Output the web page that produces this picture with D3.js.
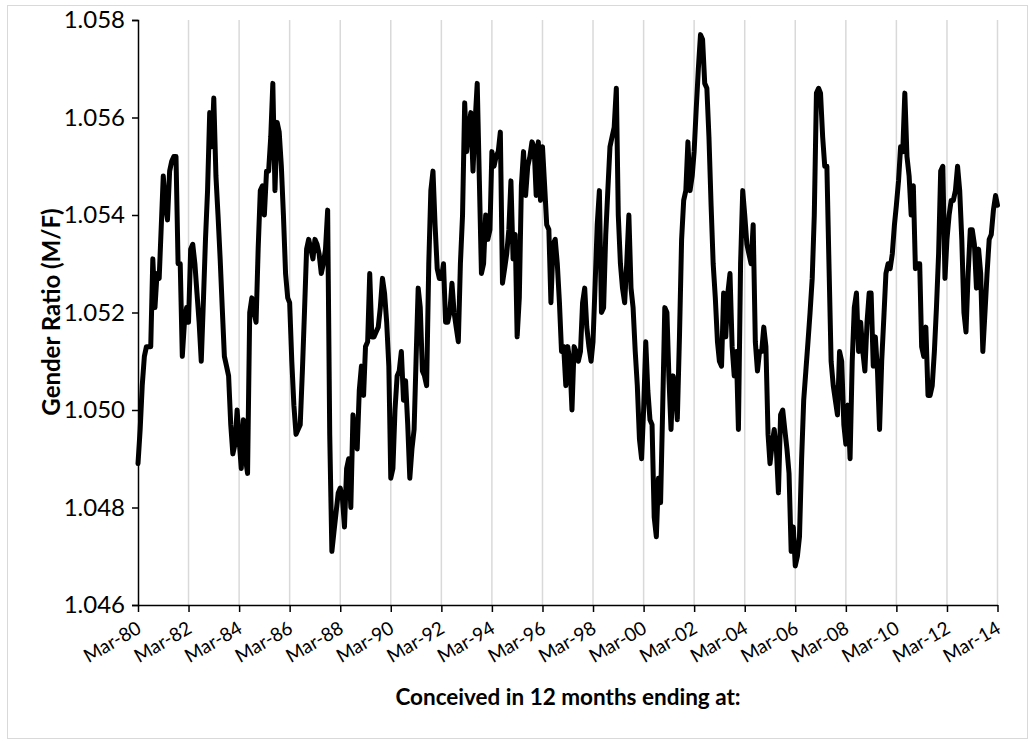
<!DOCTYPE html>
<html>
<head>
<meta charset="utf-8">
<script src="https://cdn.jsdelivr.net/npm/d3@7"></script>
<style>
  html, body { margin: 0; padding: 0; background: #fff; }
  svg { display: block; font-family: Lato, "Open Sans", sans-serif; }
</style>
</head>
<body>
<svg id="chart" width="1029" height="739"></svg>
<script>
// First month of the series and the monthly male/female ratio of births
// conceived in the 12 months ending at each month.
const startMonth = "1980-03";
const ratio = [
  1.0489, 1.0496, 1.0505, 1.0511, 1.0513, 1.0513, 1.0513, 1.0531, 1.0521, 1.0528,
  1.0527, 1.0538, 1.0548, 1.0542, 1.0539, 1.0549, 1.0551, 1.0552, 1.0552, 1.0530,
  1.0530, 1.0511, 1.0518, 1.0521, 1.0518, 1.0533, 1.0534, 1.0530, 1.0524, 1.0518,
  1.0510, 1.0522, 1.0535, 1.0545, 1.0561, 1.0554, 1.0564, 1.0548, 1.0540, 1.0531,
  1.0521, 1.0511, 1.0509, 1.0507, 1.0497, 1.0491, 1.0493, 1.0500, 1.0494, 1.0488,
  1.0498, 1.0490, 1.0487, 1.0520, 1.0523, 1.0520, 1.0518, 1.0533, 1.0545, 1.0546,
  1.0540, 1.0549, 1.0549, 1.0556, 1.0567, 1.0545, 1.0559, 1.0557, 1.0550, 1.0540,
  1.0528, 1.0523, 1.0522, 1.0510, 1.0501, 1.0495, 1.0496, 1.0497, 1.0508, 1.0520,
  1.0533, 1.0535, 1.0533, 1.0531, 1.0535, 1.0534, 1.0532, 1.0528, 1.0530, 1.0533,
  1.0541, 1.0495, 1.0471, 1.0475, 1.0479, 1.0483, 1.0484, 1.0482, 1.0476, 1.0488,
  1.0490, 1.0480, 1.0499, 1.0495, 1.0492, 1.0504, 1.0509, 1.0503, 1.0513, 1.0514,
  1.0528, 1.0515, 1.0515, 1.0516, 1.0517, 1.0521, 1.0527, 1.0524, 1.0518, 1.0509,
  1.0486, 1.0488, 1.0500, 1.0507, 1.0508, 1.0512, 1.0502, 1.0506, 1.0497, 1.0486,
  1.0492, 1.0496, 1.0510, 1.0525, 1.0521, 1.0508, 1.0507, 1.0505, 1.0530, 1.0545,
  1.0549, 1.0538, 1.0529, 1.0527, 1.0527, 1.0530, 1.0518, 1.0518, 1.0520, 1.0526,
  1.0520, 1.0517, 1.0514, 1.0530, 1.0540, 1.0563, 1.0553, 1.0558, 1.0561, 1.0549,
  1.0559, 1.0567, 1.0547, 1.0528, 1.0530, 1.0540, 1.0535, 1.0537, 1.0553, 1.0550,
  1.0552, 1.0553, 1.0557, 1.0526, 1.0529, 1.0532, 1.0537, 1.0547, 1.0531, 1.0536,
  1.0515, 1.0523, 1.0546, 1.0553, 1.0544, 1.0550, 1.0552, 1.0555, 1.0554, 1.0544,
  1.0555, 1.0543, 1.0554, 1.0546, 1.0538, 1.0537, 1.0522, 1.0534, 1.0535, 1.0530,
  1.0522, 1.0512, 1.0513, 1.0505, 1.0513, 1.0510, 1.0500, 1.0513, 1.0512, 1.0510,
  1.0512, 1.0522, 1.0525, 1.0517, 1.0513, 1.0510, 1.0514, 1.0526, 1.0538, 1.0545,
  1.0520, 1.0521, 1.0536, 1.0545, 1.0554, 1.0556, 1.0558, 1.0566, 1.0540, 1.0530,
  1.0525, 1.0522, 1.0530, 1.0540, 1.0525, 1.0521, 1.0512, 1.0505, 1.0494, 1.0490,
  1.0500, 1.0514, 1.0504, 1.0498, 1.0497, 1.0478, 1.0474, 1.0486, 1.0481, 1.0500,
  1.0521, 1.0520, 1.0507, 1.0496, 1.0507, 1.0505, 1.0498, 1.0515, 1.0535, 1.0543,
  1.0545, 1.0555, 1.0545, 1.0548, 1.0553, 1.0562, 1.0570, 1.0577, 1.0576, 1.0567,
  1.0566, 1.0556, 1.0542, 1.0530, 1.0523, 1.0514, 1.0510, 1.0509, 1.0524, 1.0515,
  1.0524, 1.0528, 1.0513, 1.0507, 1.0512, 1.0496, 1.0530, 1.0545, 1.0540, 1.0534,
  1.0532, 1.0530, 1.0538, 1.0514, 1.0508, 1.0512, 1.0512, 1.0517, 1.0513, 1.0495,
  1.0489, 1.0493, 1.0496, 1.0492, 1.0483, 1.0499, 1.0500, 1.0496, 1.0492, 1.0487,
  1.0471, 1.0476, 1.0468, 1.0470, 1.0474, 1.0490, 1.0502, 1.0508, 1.0514, 1.0520,
  1.0527, 1.0540, 1.0565, 1.0566, 1.0565, 1.0556, 1.0550, 1.0550, 1.0530, 1.0510,
  1.0505, 1.0502, 1.0499, 1.0512, 1.0510, 1.0497, 1.0493, 1.0501, 1.0490, 1.0510,
  1.0521, 1.0524, 1.0512, 1.0518, 1.0512, 1.0508, 1.0518, 1.0524, 1.0524, 1.0509,
  1.0515, 1.0508, 1.0496, 1.0510, 1.0519, 1.0528, 1.0530, 1.0529, 1.0532, 1.0538,
  1.0542, 1.0547, 1.0554, 1.0553, 1.0565, 1.0552, 1.0548, 1.0540, 1.0546, 1.0529,
  1.0530, 1.0530, 1.0513, 1.0511, 1.0517, 1.0503, 1.0503, 1.0505, 1.0512, 1.0521,
  1.0532, 1.0549, 1.0550, 1.0527, 1.0535, 1.0540, 1.0543, 1.0543, 1.0545, 1.0550,
  1.0545, 1.0535, 1.0520, 1.0516, 1.0528, 1.0537, 1.0537, 1.0534, 1.0525, 1.0533,
  1.0528, 1.0512, 1.0520, 1.0528, 1.0535, 1.0536, 1.0541, 1.0544, 1.0542
];
const yTicks = [1.046, 1.048, 1.050, 1.052, 1.054, 1.056, 1.058];
const xTickStepMonths = 24;
const yTitle = "Gender Ratio (M/F)";
const xTitle = "Conceived in 12 months ending at:";

const parseMonth = d3.timeParse("%Y-%m");
const start = parseMonth(startMonth);
const series = ratio.map((v, i) => ({ date: d3.timeMonth.offset(start, i), value: v }));
const end = series[series.length - 1].date;

const svg = d3.select("#chart");
const W = 1029, H = 739;
const plot = { left: 138, right: 997.5, top: 20, bottom: 605 };
const font = "Lato, 'Open Sans', sans-serif";

// outer chart frame
svg.append("rect")
  .attr("x", 7.5).attr("y", 5.5)
  .attr("width", W - 9).attr("height", H - 6)
  .attr("fill", "#fff").attr("stroke", "#d9d9d9").attr("stroke-width", 1);

const x = d3.scaleTime().domain([start, end]).range([plot.left, plot.right]);
const y = d3.scaleLinear().domain([1.046, 1.058]).range([plot.bottom, plot.top]);

const monthTicks = d3.range(0, ratio.length, xTickStepMonths).map(i => d3.timeMonth.offset(start, i));

// vertical gridlines every two years
svg.append("g")
  .selectAll("line")
  .data(monthTicks.slice(1))
  .join("line")
  .attr("x1", d => x(d)).attr("x2", d => x(d))
  .attr("y1", plot.top).attr("y2", plot.bottom)
  .attr("stroke", "#d9d9d9").attr("stroke-width", 1.5);

// the series
const line = d3.line().x(d => x(d.date)).y(d => y(d.value)).curve(d3.curveLinear);
svg.append("path")
  .datum(series)
  .attr("d", line)
  .attr("fill", "none")
  .attr("stroke", "#000")
  .attr("stroke-width", 5)
  .attr("stroke-linejoin", "round")
  .attr("stroke-linecap", "round");

// y axis
const yAxis = d3.axisLeft(y).tickValues(yTicks).tickFormat(d3.format(".3f")).tickSize(6).tickPadding(7);
const gy = svg.append("g").attr("transform", `translate(${plot.left},0)`).call(yAxis);
gy.select(".domain").attr("stroke", "#000").attr("stroke-width", 1.5);
gy.selectAll(".tick line").attr("stroke", "#000").attr("stroke-width", 1.5);
gy.selectAll(".tick text")
  .attr("font-family", font)
  .attr("font-size", 24).attr("fill", "#000");

// x axis
const xAxis = d3.axisBottom(x).tickValues(monthTicks).tickFormat(d3.timeFormat("%b-%y")).tickSize(7).tickSizeOuter(0);
const gx = svg.append("g").attr("transform", `translate(0,${plot.bottom})`).call(xAxis);
gx.select(".domain").attr("stroke", "#000").attr("stroke-width", 1.5);
gx.selectAll(".tick line").attr("stroke", "#000").attr("stroke-width", 1.5);
gx.selectAll(".tick text")
  .attr("font-family", font)
  .attr("font-size", 19).attr("fill", "#000")
  .attr("text-anchor", "end")
  .attr("y", 0)
  .attr("dy", null)
  .attr("transform", "translate(4,27) rotate(-30)");

// axis titles
svg.append("text")
  .attr("x", 568).attr("y", 705)
  .attr("text-anchor", "middle")
  .attr("font-family", font)
  .attr("font-weight", "bold").attr("font-size", 22.5)
  .attr("fill", "#000")
  .text(xTitle);

svg.append("text")
  .attr("transform", "translate(60,312) rotate(-90)")
  .attr("text-anchor", "middle")
  .attr("font-family", font)
  .attr("font-weight", "bold").attr("font-size", 24)
  .attr("fill", "#000")
  .text(yTitle);
</script>
</body>
</html>
